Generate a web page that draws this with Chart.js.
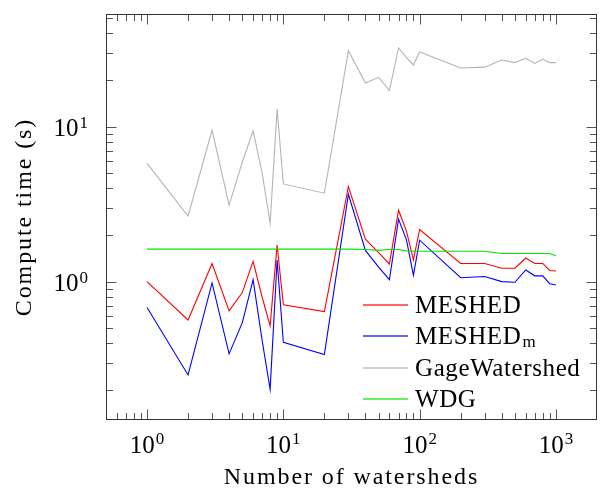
<!DOCTYPE html>
<html>
<head>
<meta charset="utf-8">
<script src="https://cdn.jsdelivr.net/npm/chart.js@4.4.0/dist/chart.umd.min.js"></script>
<style>
  html, body { margin: 0; padding: 0; background: #fff; }
  #wrap { width: 602px; height: 493px; }
</style>
</head>
<body>
<div id="wrap"><canvas id="timing"></canvas></div>
<script>
// number of watersheds (x) and compute times in seconds (y)
const watersheds = [1, 2, 3, 4, 5, 6, 7, 8, 9, 10, 20, 30, 40, 50, 60, 70, 80, 90, 100, 200, 300, 400, 500, 600, 700, 800, 900, 1000]
const meshed = [1.0, 0.566, 1.31, 0.647, 0.85, 1.35, 0.79, 0.518, 1.72, 0.71, 0.64, 4.10, 1.88, 1.54, 1.30, 2.89, 2.12, 1.38, 2.17, 1.31, 1.31, 1.22, 1.22, 1.42, 1.31, 1.31, 1.18, 1.17]
const meshedM = [0.68, 0.25, 0.98, 0.342, 0.544, 1.03, 0.414, 0.202, 1.38, 0.406, 0.338, 3.66, 1.59, 1.24, 1.03, 2.53, 1.86, 1.10, 1.85, 1.06, 1.08, 1.0, 0.99, 1.19, 1.09, 1.09, 0.97, 0.95]
const gage = [5.8, 2.65, 9.5, 3.12, 5.9, 9.4, 5.0, 2.38, 13.0, 4.27, 3.72, 30.9, 19.1, 20.8, 17.1, 32.2, 27.9, 25.0, 30.3, 23.9, 24.2, 26.9, 25.9, 27.6, 25.6, 27.2, 25.9, 25.9]
const wdg = [1.62, 1.62, 1.62, 1.62, 1.62, 1.62, 1.62, 1.62, 1.62, 1.62, 1.62, 1.62, 1.61, 1.59, 1.61, 1.61, 1.58, 1.57, 1.57, 1.57, 1.57, 1.52, 1.52, 1.52, 1.52, 1.52, 1.52, 1.47]

const seriesNames = ['MESHED', 'MESHED', 'GageWatershed', 'WDG']
const seriesSubs = ['', 'm', '', '']
const seriesColors = ['#ff0000', '#0000ff', '#b4b4b4', '#00e600']

// tick labels: base 10 with exponent
const xTicks = [1, 10, 100, 1000]
const xTickExp = ['0', '1', '2', '3']
const yTicks = [1, 10]
const yTickExp = ['0', '1']

const X_MIN = 0.5, X_MAX = 2000
const Y_MIN = 0.128, Y_MAX = 53.3

const FONT = '"Liberation Serif", "Times New Roman", serif'

function minorTicks(lo, hi) {
    const out = []
    for (let d = -2; d <= 4; d++) {
        for (let m = 2; m <= 9; m++) {
            const v = m * Math.pow(10, d)
            if (v > lo * 1.001 && v < hi * 0.999) out.push(v)
        }
    }
    return out
}

const pts = arr => arr.map((v, i) => ({ x: watersheds[i], y: v }))

const frame = {
    id: 'frame',
    beforeDraw(chart) {
        chart.ctx.letterSpacing = '1.9px'
    },
    afterDraw(chart) {
        const { ctx, chartArea: a, scales: { x, y } } = chart
        ctx.save()
        ctx.letterSpacing = '0px'

        // inward ticks on all four sides
        ctx.strokeStyle = '#555'
        ctx.lineWidth = 1
        ctx.beginPath()
        const xt = (v, len) => {
            const p = Math.round(x.getPixelForValue(v)) + 0.5
            ctx.moveTo(p, a.bottom); ctx.lineTo(p, a.bottom - len)
            ctx.moveTo(p, a.top); ctx.lineTo(p, a.top + len)
        }
        const yt = (v, len) => {
            const p = Math.round(y.getPixelForValue(v)) + 0.5
            ctx.moveTo(a.left, p); ctx.lineTo(a.left + len, p)
            ctx.moveTo(a.right, p); ctx.lineTo(a.right - len, p)
        }
        minorTicks(X_MIN, X_MAX).forEach(v => xt(v, 7))
        minorTicks(Y_MIN, Y_MAX).forEach(v => yt(v, 7))
        xTicks.forEach(v => xt(v, 10.5))
        yTicks.forEach(v => yt(v, 10.5))
        ctx.stroke()

        // axis box
        ctx.strokeStyle = '#333'
        ctx.strokeRect(a.left + 0.5, a.top + 0.5, a.right - a.left - 1, a.bottom - a.top - 1)

        // tick labels 10^n
        ctx.fillStyle = '#000'
        ctx.textBaseline = 'alphabetic'
        ctx.textAlign = 'left'
        const big = '25px ' + FONT, small = '17px ' + FONT
        const power = (exp, left, base) => {
            ctx.font = big
            ctx.fillText('10', left, base)
            const w = ctx.measureText('10').width
            ctx.font = small
            ctx.fillText(exp, left + w + 1, base - 8.5)
        }
        const powerWidth = exp => {
            ctx.font = big
            const w = ctx.measureText('10').width
            ctx.font = small
            return w + 1 + ctx.measureText(exp).width
        }
        xTicks.forEach((v, i) => {
            const p = x.getPixelForValue(v)
            power(xTickExp[i], p - powerWidth(xTickExp[i]) / 2, 452.5)
        })
        yTicks.forEach((v, i) => {
            const p = y.getPixelForValue(v)
            power(yTickExp[i], 88 - powerWidth(yTickExp[i]), p + 9.5)
        })

        // legend
        ctx.letterSpacing = '0.6px'
        seriesNames.forEach((name, i) => {
            const cy = Math.round(305 + i * 31.3)
            ctx.fillStyle = seriesColors[i]
            ctx.fillRect(363, cy - 0.6, 45, 1.2)
            ctx.font = '25px ' + FONT
            ctx.fillStyle = '#000'
            ctx.fillText(name, 415, cy + 8)
            if (seriesSubs[i]) {
                const w = ctx.measureText(name).width
                ctx.font = '17px ' + FONT
                ctx.fillText(seriesSubs[i], 415 + w + 1, cy + 11)
            }
        })
        ctx.restore()
    }
}

const ds = (data, i, order) => ({
    label: seriesNames[i] + seriesSubs[i],
    data: pts(data),
    borderColor: seriesColors[i],
    backgroundColor: seriesColors[i],
    borderWidth: 1.1,
    pointRadius: 0,
    tension: 0,
    fill: false,
    order: order
})

new Chart(document.getElementById('timing'), {
    type: 'line',
    data: {
        datasets: [
            ds(meshed, 0, 3),
            ds(meshedM, 1, 2),
            ds(gage, 2, 1),
            ds(wdg, 3, 0)
        ]
    },
    options: {
        responsive: true,
        maintainAspectRatio: false,
        animation: false,
        layout: { padding: { top: 14, right: 5, left: 0, bottom: 0 } },
        plugins: {
            legend: { display: false },
            tooltip: { enabled: false },
            title: { display: false }
        },
        scales: {
            x: {
                type: 'logarithmic',
                min: X_MIN,
                max: X_MAX,
                grid: { display: false },
                border: { display: false },
                ticks: { display: false },
                afterFit(scale) { scale.height = 73 },
                title: {
                    display: true,
                    text: 'Number of watersheds',
                    color: '#000',
                    font: { family: FONT, size: 24 },
                    padding: { top: 0, bottom: 0.5 }
                }
            },
            y: {
                type: 'logarithmic',
                min: Y_MIN,
                max: Y_MAX,
                grid: { display: false },
                border: { display: false },
                ticks: { display: false },
                afterFit(scale) { scale.width = 106 },
                title: {
                    display: true,
                    text: 'Compute time (s)',
                    color: '#000',
                    font: { family: FONT, size: 24 },
                    padding: { top: 10.5, bottom: 0 }
                }
            }
        }
    },
    plugins: [frame]
})
</script>
</body>
</html>
